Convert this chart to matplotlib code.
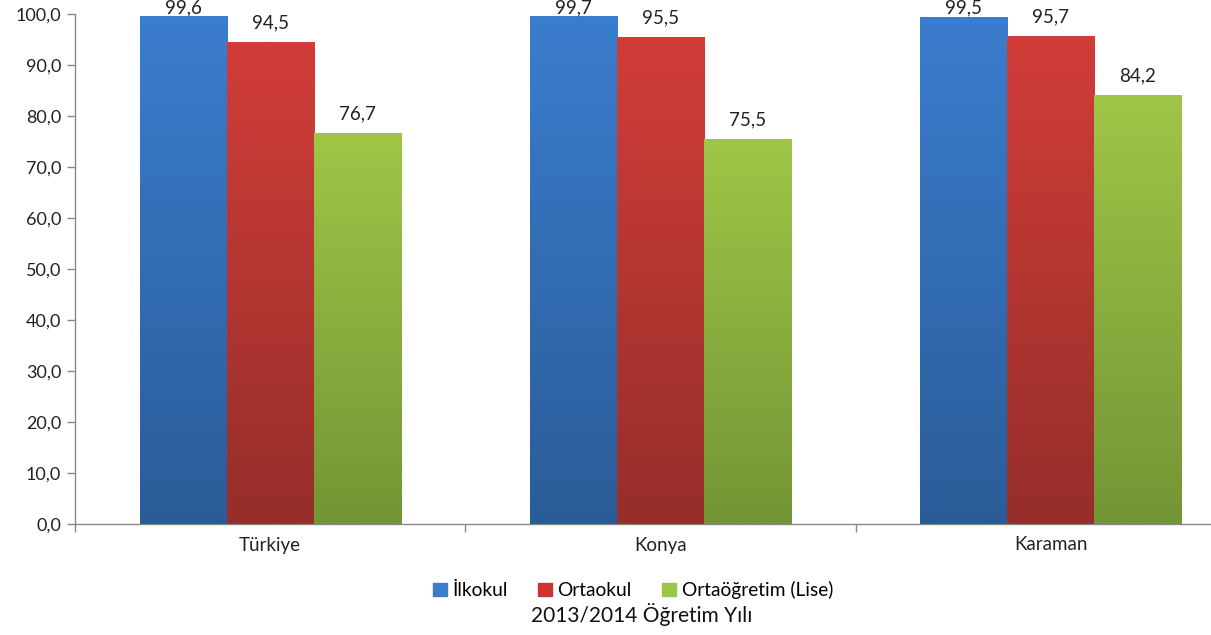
import matplotlib
matplotlib.use("Agg")
import matplotlib.pyplot as plt
import numpy as np
from matplotlib.colors import LinearSegmentedColormap
from matplotlib.ticker import FuncFormatter
from matplotlib.patches import Rectangle

categories = ["Türkiye", "Konya", "Karaman"]
series_names = ["İlkokul", "Ortaokul", "Ortaöğretim (Lise)"]
ilkokul = [99.6, 99.7, 99.5]
ortaokul = [94.5, 95.5, 95.7]
lise = [76.7, 75.5, 84.2]
values = [ilkokul, ortaokul, lise]
title = "2013/2014 Öğretim Yılı"

top_colors = ["#3b7dce", "#d13d39", "#9fc647"]
bot_colors = ["#2a5c98", "#962e2a", "#739535"]
legend_colors = ["#3c7ccc", "#cc3333", "#9bc545"]

plt.rcParams['font.family'] = ['Lato', 'DejaVu Sans']
fig = plt.figure(figsize=(12.11, 6.35), dpi=100)
ax = fig.add_axes([75/1211, 111/635, 1171/1211, 510/635])

x = np.arange(len(categories))
w = 0.223
offsets = [-w, 0, w]
for i, (vals, tc, bc) in enumerate(zip(values, top_colors, bot_colors)):
    bars = ax.bar(x + offsets[i], vals, width=w, color=tc, zorder=2)
    cmap = LinearSegmentedColormap.from_list("g%d" % i, [bc, tc])
    for b, v in zip(bars, vals):
        x0 = b.get_x(); bw = b.get_width(); h = b.get_height()
        grad = np.linspace(0, 1, 256).reshape(-1, 1)
        im = ax.imshow(grad, cmap=cmap, origin='lower', aspect='auto',
                       extent=[x0, x0 + bw, 0, h], zorder=3)
        im.set_clip_path(b)
        ly = min(v + 3.7, 101.2)
        ax.text(x0 + bw / 2, ly, f"{v:.1f}".replace('.', ','), ha='center', va='center',
                fontsize=13.5, color='#222222', zorder=5, clip_on=False)

ax.set_xlim(-0.5, len(categories) - 0.5)
ax.set_ylim(0, 100)
ax.set_yticks(np.arange(0, 101, 10))
ax.yaxis.set_major_formatter(FuncFormatter(lambda v, p: f"{v:.1f}".replace('.', ',')))
ax.set_xticks(np.arange(len(categories) + 1) - 0.5)
ax.set_xticklabels([])
ax.set_xticks(x, minor=True)
ax.set_xticklabels(categories, minor=True)
ax.tick_params(axis='x', which='minor', length=0, pad=9, labelsize=13.5, labelcolor='#222222')
ax.tick_params(axis='x', which='major', length=6, color='#888888', width=1)
ax.tick_params(axis='y', length=6, color='#888888', width=1, labelsize=13, labelcolor='#222222', pad=4)
for s in ['top', 'right']:
    ax.spines[s].set_visible(False)
for s in ['left', 'bottom']:
    ax.spines[s].set_color('#888888')
    ax.spines[s].set_linewidth(1)
ax.set_facecolor('white')

handles = [Rectangle((0, 0), 1, 1, color=c) for c in legend_colors]
fig.legend(handles, series_names, loc='center', bbox_to_anchor=(633/1211, 1 - 590/635),
           ncol=3, frameon=False, fontsize=13.8, handlelength=0.7, handleheight=0.7,
           handletextpad=0.3, columnspacing=1.6)
fig.text(642/1211, 1 - 614/635, title, ha='center', va='center', fontsize=15, color='#111111')

fig.savefig("out.png", dpi=100, facecolor='white')
